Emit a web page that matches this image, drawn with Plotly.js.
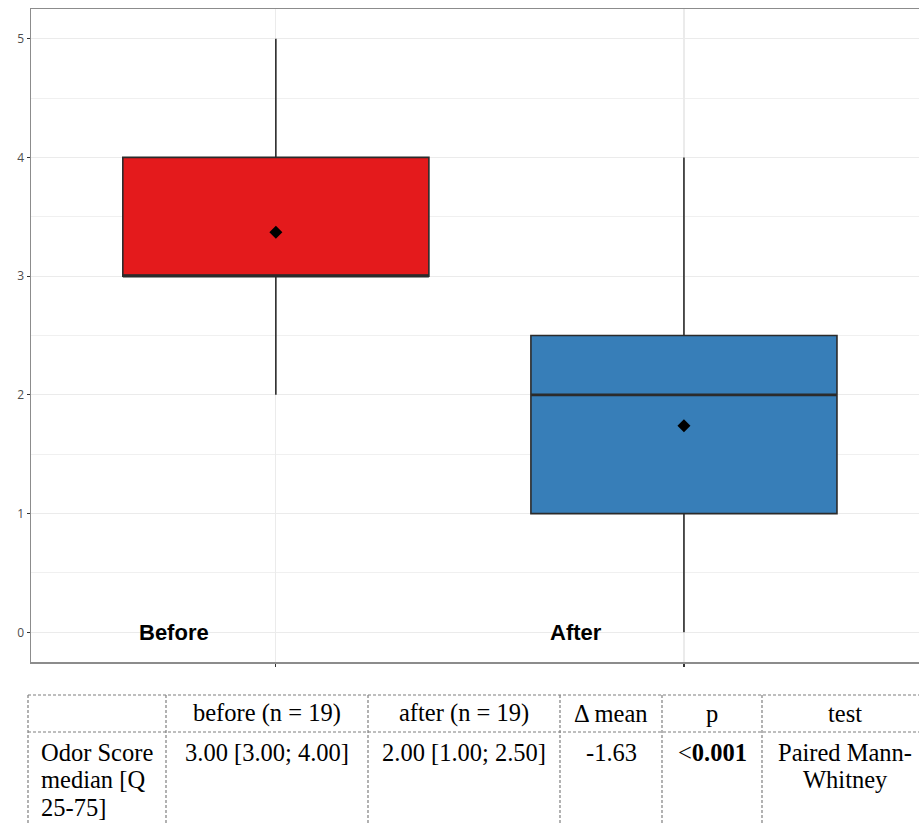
<!DOCTYPE html>
<html>
<head>
<meta charset="utf-8">
<script src="https://cdn.plot.ly/plotly-3.0.1.min.js"></script>
<style>html,body{margin:0;padding:0;background:#fff;}#chart{width:919px;height:823px;}</style>
</head>
<body>
<div id="chart"></div>
<script>
// ---- data ----
const categories = ['Before', 'After'];
const q1Values = [3, 1];
const medianValues = [3, 2];
const q3Values = [4, 2.5];
const lowerWhiskers = [2, 0];
const upperWhiskers = [5, 4];
const meanValues = [3.37, 1.74];
const yTickValues = [0, 1, 2, 3, 4, 5];
const tableHeader = ['', 'before (n = 19)', 'after (n = 19)', '\u0394 mean', 'p', 'test'];
const tableRow = ['Odor Score<br>median [Q<br>25-75]', '3.00 [3.00; 4.00]', '2.00 [1.00; 2.50]', '-1.63', '&lt;<b>0.001</b>', 'Paired Mann-<br>Whitney'];

// ---- styles ----
const boxColors = ['#E41A1C', '#377EB8'];
const W = 919, H = 823;
const M = {l: 31, r: 0, t: 9, b: 161};
const plotW = W - M.l - M.r, plotH = H - M.t - M.b;
const px = x => (x - M.l) / plotW;
const py = y => (H - M.b - y) / plotH;
const boxHalfWidth = 0.375;

const traces = categories.map((c, i) => ({
  type: 'box',
  x: [c],
  q1: [q1Values[i]],
  median: [medianValues[i]],
  q3: [q3Values[i]],
  lowerfence: [lowerWhiskers[i]],
  upperfence: [upperWhiskers[i]],
  fillcolor: boxColors[i],
  line: {color: '#2b2b2b', width: 1.6},
  whiskerwidth: 0,
  boxpoints: false,
  showlegend: false,
  hoverinfo: 'skip'
}));
traces.push({
  type: 'scatter', mode: 'markers',
  x: categories, y: meanValues,
  marker: {symbol: 'diamond', size: 10, color: '#000'},
  showlegend: false, hoverinfo: 'skip'
});

const annotations = [];
const shapes = [];
// thicker median lines (ggplot style)
medianValues.forEach((m, i) => shapes.push({
  type: 'line', xref: 'x', yref: 'y', layer: 'above',
  x0: i - boxHalfWidth, x1: i + boxHalfWidth, y0: m, y1: m,
  line: {color: '#2b2b2b', width: 2.8}
}));
// category labels inside plot
const labelOffsets = [-0.25, -0.265];
categories.forEach((c, i) => {
  annotations.push({
    x: i + labelOffsets[i], y: 0, xref: 'x', yref: 'y',
    text: '<b>' + c + '</b>', showarrow: false,
    font: {family: 'Liberation Sans, Arial, sans-serif', size: 22, color: '#000'},
    xanchor: 'center', yanchor: 'middle'
  });
});

// table
const colEdges = [28, 166, 368, 560, 662, 762, 928];
const rowEdges = [695, 732, 840];
const dashStyle = {color: '#7f7f7f', width: 1.2, dash: '3px,2px'};
rowEdges.slice(0, 2).forEach(y => shapes.push({
  type: 'line', xref: 'paper', yref: 'paper',
  x0: px(colEdges[0]), x1: px(930), y0: py(y), y1: py(y), line: dashStyle
}));
colEdges.slice(0, 6).forEach(x => shapes.push({
  type: 'line', xref: 'paper', yref: 'paper',
  x0: px(x), x1: px(x), y0: py(rowEdges[0]), y1: py(rowEdges[2]), line: dashStyle
}));
const tableFont = {family: 'Liberation Serif, Times New Roman, serif', size: 24.5, color: '#000'};
tableHeader.forEach((t, i) => {
  if (!t) return;
  annotations.push({
    x: px((colEdges[i] + colEdges[i + 1]) / 2), y: py(713), xref: 'paper', yref: 'paper',
    text: t, showarrow: false, font: tableFont, xanchor: 'center', yanchor: 'middle'
  });
});
const lineGap = 27.5;
tableRow.forEach((t, i) => {
  const left = i === 0;
  t.split('<br>').forEach((line, k) => {
    annotations.push({
      x: left ? px(39) : px((colEdges[i] + colEdges[i + 1]) / 2),
      y: py(752 + k * lineGap), xref: 'paper', yref: 'paper',
      text: line, showarrow: false, font: tableFont,
      xanchor: left ? 'left' : 'center', yanchor: 'middle'
    });
  });
});

const layout = {
  width: W, height: H,
  margin: M,
  paper_bgcolor: '#fff', plot_bgcolor: '#fff',
  boxmode: 'overlay', boxgap: 0.25, boxgroupgap: 0,
  xaxis: {
    type: 'category', categoryarray: categories, categoryorder: 'array',
    range: [-0.6, 1.576],
    showticklabels: false, ticks: 'outside', ticklen: 3, tickcolor: '#333', tickwidth: 1.2,
    showgrid: true, gridcolor: '#ebebeb', gridwidth: 1.2,
    showline: true, linecolor: '#8c8c8c', linewidth: 1.5, mirror: true,
    zeroline: false, fixedrange: true
  },
  yaxis: {
    range: [-0.25, 5.25], tickvals: yTickValues,
    ticks: 'outside', ticklen: 3, tickcolor: '#333', tickwidth: 1.2,
    tickfont: {family: 'Open Sans, DejaVu Sans, sans-serif', size: 12, color: '#4d4d4d'},
    showgrid: true, gridcolor: '#ebebeb', gridwidth: 1.2,
    minor: {dtick: 0.5, showgrid: true, gridcolor: '#f0f0f0', gridwidth: 1},
    showline: true, linecolor: '#8c8c8c', linewidth: 1.5, mirror: false,
    zeroline: false, fixedrange: true
  },
  shapes: shapes,
  annotations: annotations
};

Plotly.newPlot('chart', traces, layout, {displayModeBar: false, staticPlot: true});
</script>
</body>
</html>
